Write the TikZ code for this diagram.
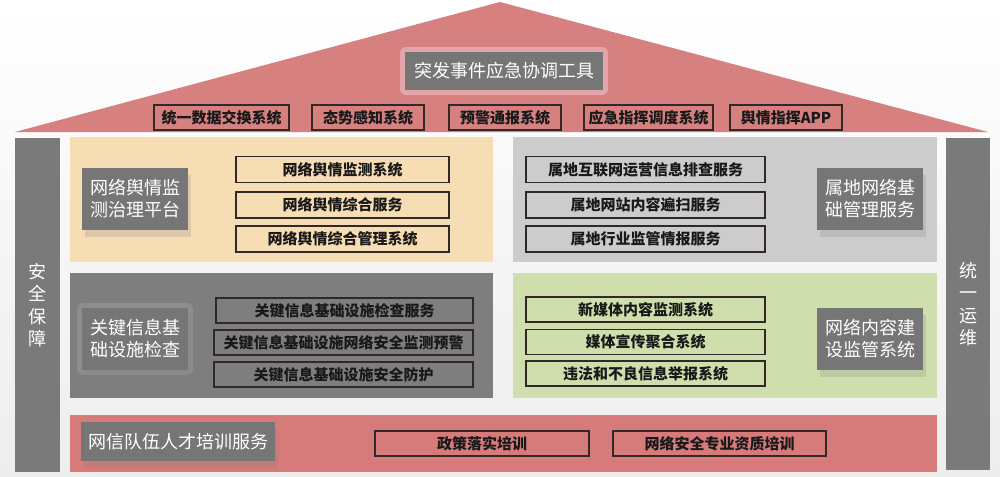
\documentclass[tikz,border=0pt]{standalone}
\usepackage{fontspec}
\setmainfont{Noto Sans CJK SC}
\usetikzlibrary{shadows}
\definecolor{roofc}{RGB}{214,128,128}
\definecolor{bandc}{RGB}{214,122,122}
\definecolor{orangec}{RGB}{247,221,180}
\definecolor{grayc}{RGB}{204,204,204}
\definecolor{darkc}{RGB}{126,126,126}
\definecolor{greenc}{RGB}{206,222,172}
\definecolor{labelc}{RGB}{118,118,118}
\definecolor{pillarc}{RGB}{122,122,122}
\definecolor{linec}{RGB}{50,40,40}
\definecolor{txtc}{RGB}{25,25,25}
\definecolor{glowc}{RGB}{228,165,170}
\begin{document}
\begin{tikzpicture}[x=1pt,y=-1pt,
  sbox/.style={draw=linec, line width=1.6pt, text=txtc, inner sep=0pt,
    font=\bfseries\fontsize{15}{18}\selectfont},
  lbox/.style={fill=labelc, text=white, inner sep=0pt, align=center,
    font=\fontsize{18}{22}\selectfont,
    drop shadow={opacity=0.22, shadow xshift=3pt, shadow yshift=-7pt}},
  panel/.style={inner sep=0pt, draw=none},
  pillar/.style={fill=pillarc, text=white, inner sep=0pt, align=center,
    font=\fontsize{18}{22.5}\selectfont}]
\useasboundingbox (0,0) rectangle (1000,476);
\shade[top color=white, bottom color=black!7] (0,0) rectangle (1000,476);

% roof
\fill[roofc] (15,132) -- (500,2) -- (988,132) -- cycle;
\fill[glowc, rounded corners=6pt] (400,47) rectangle (608,95);
\node[fill=labelc, text=white, inner sep=0pt, font=\fontsize{18}{22}\selectfont,
  minimum width=198, minimum height=38] (title) at (504,71) {突发事件应急协调工具};

\node[sbox, minimum width=135, minimum height=25] (r1) at (221.5,117.5) {统一数据交换系统};
\node[sbox, minimum width=112, minimum height=25] (r2) at (368,117.5) {态势感知系统};
\node[sbox, minimum width=112, minimum height=25] (r3) at (505,117.5) {预警通报系统};
\node[sbox, minimum width=129, minimum height=25] (r4) at (648.5,117.5) {应急指挥调度系统};
\node[sbox, minimum width=112, minimum height=25] (r5) at (786,117.5) {舆情指挥APP};

% pillars
\node[pillar, minimum width=45, minimum height=334] (pl) at (37.5,305) {安\\全\\保\\障};
\node[pillar, minimum width=44, minimum height=332] (pr) at (968,304) {统\\一\\运\\维};

% panels
\node[panel, fill=orangec, minimum width=423, minimum height=125] (p1) at (281.5,199.5) {};
\node[panel, fill=grayc, minimum width=424, minimum height=125] (p2) at (725,199.5) {};
\node[panel, fill=darkc, minimum width=423, minimum height=125] (p3) at (281.5,335.5) {};
\node[panel, fill=greenc, minimum width=424, minimum height=125] (p4) at (725,335.5) {};
\node[panel, fill=bandc, minimum width=867, minimum height=57] (p5) at (503.5,443.5) {};

% panel 1
\node[lbox, minimum width=106, minimum height=62] (l1) at (135,199) {网络舆情监\\测治理平台};
\node[sbox, minimum width=213, minimum height=26] (a1) at (342.5,169.5) {网络舆情监测系统};
\node[sbox, minimum width=213, minimum height=26] (a2) at (342.5,205) {网络舆情综合服务};
\node[sbox, minimum width=213, minimum height=26] (a3) at (342.5,239) {网络舆情综合管理系统};

% panel 2
\node[lbox, minimum width=106, minimum height=62] (l2) at (870,199) {属地网络基\\础管理服务};
\node[sbox, minimum width=239, minimum height=26] (b1) at (645.5,169.5) {属地互联网运营信息排查服务};
\node[sbox, minimum width=239, minimum height=26] (b2) at (645.5,205) {属地网站内容遍扫服务};
\node[sbox, minimum width=239, minimum height=26] (b3) at (645.5,239) {属地行业监管情报服务};

% panel 3
\fill[white, opacity=0.12, rounded corners=6pt] (77,303) rectangle (193,375);
\node[lbox, minimum width=106, minimum height=62] (l3) at (135,339) {关键信息基\\础设施检查};
\node[sbox, minimum width=257, minimum height=25] (c1) at (344.5,310.5) {关键信息基础设施检查服务};
\node[sbox, minimum width=259, minimum height=25] (c2) at (343.5,342.5) {关键信息基础设施网络安全监测预警};
\node[sbox, minimum width=259, minimum height=25] (c3) at (343.5,374.5) {关键信息基础设施安全防护};

% panel 4
\node[lbox, minimum width=106, minimum height=62] (l4) at (870,339) {网络内容建\\设监管系统};
\node[sbox, minimum width=239, minimum height=25] (d1) at (645.5,309.5) {新媒体内容监测系统};
\node[sbox, minimum width=239, minimum height=25] (d2) at (645.5,342) {媒体宣传聚合系统};
\node[sbox, minimum width=239, minimum height=25] (d3) at (645.5,373.5) {违法和不良信息举报系统};

% band
\node[lbox, minimum width=194, minimum height=39] (l5) at (178,441.5) {网信队伍人才培训服务};
\node[sbox, minimum width=214, minimum height=25] (e1) at (482,443.5) {政策落实培训};
\node[sbox, minimum width=213, minimum height=25] (e2) at (719.5,443.5) {网络安全专业资质培训};
\end{tikzpicture}
\end{document}
